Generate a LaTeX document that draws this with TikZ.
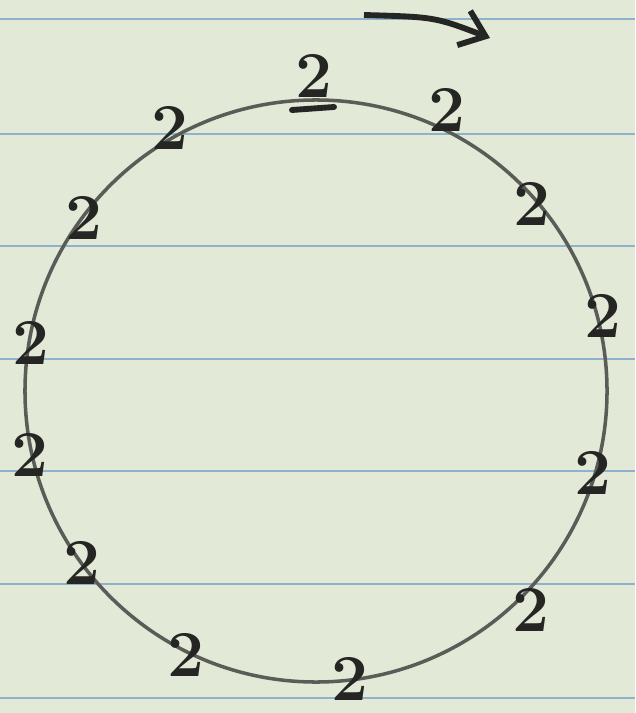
\documentclass[tikz,border=0pt]{standalone}
\usetikzlibrary{arrows.meta}
\definecolor{paper}{HTML}{E2E9D6}
\definecolor{rule}{HTML}{8EB2CB}
\definecolor{pencil}{HTML}{5A5C58}
\definecolor{ink}{HTML}{252624}

\begin{document}
\begin{tikzpicture}[x=0.03cm, y=-0.03cm, >=Stealth,
    digit/.style={text=ink, inner sep=0pt, font=\fontsize{56}{60}\bfseries\selectfont}]
    % paper and ruling
    \fill[paper] (0,0) rectangle (635,713);
    \useasboundingbox (0,0) rectangle (635,713);
    \foreach \y in {19,134,246,359,471,584,698}
        \draw[rule, line width=1.4pt] (0,\y) -- (635,\y);

    % ring
    \draw[pencil, line width=3pt] (316,391) circle [radius=8.73cm];

    % the twos
    \node[digit] (top)   at (314,76)  {2};
    \node[digit] (ne1)   at (447,110) {2};
    \node[digit] (ne2)   at (532,204) {2};
    \node[digit] (e1)    at (603,316) {2};
    \node[digit] (e2)    at (593,473) {2};
    \node[digit] (se)    at (531,610) {2};
    \node[digit] (bot)   at (350,679) {2};
    \node[digit] (sw1)   at (186,655) {2};
    \node[digit] (sw2)   at (82,563)  {2};
    \node[digit] (w1)    at (30,455)  {2};
    \node[digit] (w2)    at (31,343)  {2};
    \node[digit] (nw1)   at (84,218)  {2};
    \node[digit] (nw2)   at (170,128) {2};
    \draw[ink, line width=5pt, line cap=round] (292,110) -- (334,107);

    % turning arrow
    \coordinate (tail) at (364,15);
    \coordinate (head) at (490,38);
    \draw[ink, line width=5pt, -{Straight Barb[length=7mm, width=11mm, line width=5pt]}]
        (tail) .. controls (435,17) .. (head);
\end{tikzpicture}
\end{document}
